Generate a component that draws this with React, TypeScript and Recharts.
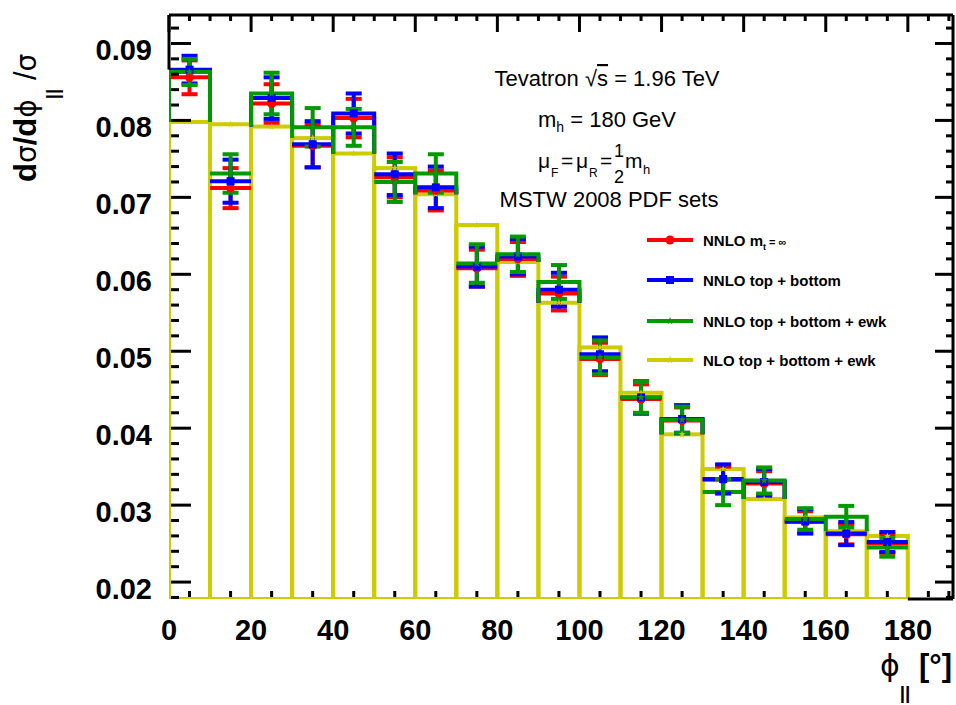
import React from 'react';
import { ComposedChart, Bar, Scatter, XAxis, YAxis, ErrorBar, ReferenceLine } from 'recharts';

// ---- data ----
const binCenters = [5, 15, 25, 35, 45, 55, 65, 75, 85, 95, 105, 115, 125, 135, 145, 155, 165, 175];

const nnloMtInf = [0.0856, 0.0712, 0.0822, 0.0767, 0.0803, 0.0726, 0.0709, 0.0608, 0.0620, 0.0575, 0.0490, 0.0438, 0.0410, 0.0333, 0.0328, 0.0278, 0.0262, 0.0250];
const nnloMtInfErr = [0.0022, 0.0026, 0.0025, 0.0028, 0.0025, 0.0026, 0.0026, 0.0024, 0.0022, 0.0022, 0.0021, 0.0019, 0.0017, 0.0017, 0.0016, 0.0014, 0.0013, 0.0012];

const nnloTopBottom = [0.0866, 0.0721, 0.0829, 0.0769, 0.0809, 0.0730, 0.0713, 0.0610, 0.0623, 0.0580, 0.0496, 0.0440, 0.0412, 0.0334, 0.0330, 0.0279, 0.0263, 0.0252];
const nnloTopBottomErr = [0.0018, 0.0028, 0.0027, 0.0030, 0.0026, 0.0027, 0.0027, 0.0026, 0.0023, 0.0022, 0.0022, 0.0021, 0.0018, 0.0019, 0.0017, 0.0016, 0.0015, 0.0013];

const nnloTopBottomEwk = [0.0863, 0.0731, 0.0835, 0.0791, 0.0791, 0.0720, 0.0731, 0.0614, 0.0626, 0.0590, 0.0492, 0.0440, 0.0411, 0.0317, 0.0332, 0.0282, 0.0285, 0.0245];
const nnloTopBottomEwkErr = [0.0017, 0.0025, 0.0027, 0.0025, 0.0024, 0.0026, 0.0025, 0.0025, 0.0023, 0.0022, 0.0022, 0.0020, 0.0017, 0.0017, 0.0017, 0.0014, 0.0014, 0.0012];

const nloTopBottomEwk = [0.0798, 0.0795, 0.0792, 0.0777, 0.0757, 0.0738, 0.0704, 0.0664, 0.0616, 0.0563, 0.0505, 0.0446, 0.0392, 0.0347, 0.0308, 0.0284, 0.0266, 0.0260];

const xTickValues = [0, 5, 10, 15, 20, 25, 30, 35, 40, 45, 50, 55, 60, 65, 70, 75, 80, 85, 90, 95, 100, 105, 110, 115, 120, 125, 130, 135, 140, 145, 150, 155, 160, 165, 170, 175, 180, 185, 190];
const xLabelValues = [0, 20, 40, 60, 80, 100, 120, 140, 160, 180];
const yTickValues = [0.018, 0.02, 0.022, 0.024, 0.026, 0.028, 0.03, 0.032, 0.034, 0.036, 0.038, 0.04, 0.042, 0.044, 0.046, 0.048, 0.05, 0.052, 0.054, 0.056, 0.058, 0.06, 0.062, 0.064, 0.066, 0.068, 0.07, 0.072, 0.074, 0.076, 0.078, 0.08, 0.082, 0.084, 0.086, 0.088, 0.09, 0.092];
const yLabelValues = [0.02, 0.03, 0.04, 0.05, 0.06, 0.07, 0.08, 0.09];

const xDomain: [number, number] = [0, 191];
const yDomain: [number, number] = [0.0178, 0.0937];
const histEnd = 180;

const RED = '#ff0000';
const BLUE = '#0000ff';
const GREEN = '#009900';
const YELLOW = '#cccc00';
const FONT = '"Liberation Sans", Arial, Helvetica, sans-serif';
const SYMFONT = '"DejaVu Sans", "Liberation Sans", sans-serif';

const data = binCenters.map((x, i) => ({
  x,
  red: nnloMtInf[i],
  redErr: nnloMtInfErr[i],
  blue: nnloTopBottom[i],
  blueErr: nnloTopBottomErr[i],
  green: nnloTopBottomEwk[i],
  greenErr: nnloTopBottomEwkErr[i],
  yellow: nloTopBottomEwk[i],
}));

const firstBinTop = Math.max(nnloMtInf[0], nnloTopBottom[0], nnloTopBottomEwk[0], nloTopBottomEwk[0]);

const isLabelX = (v: number) => xLabelValues.indexOf(v) >= 0;
const isLabelY = (v: number) => yLabelValues.some((l) => Math.abs(l - v) < 1e-9);

// ---- NLO histogram: full outline boxes ----
const boxOutline = (color: string) => (props: any) => {
  const { x, y, width, height } = props;
  if (x == null || y == null) return <g />;
  return <rect x={x} y={y} width={width} height={height} fill="none" stroke={color} strokeWidth={4} />;
};

// ---- NNLO histograms: step outline, sides shown only above the NLO box ----
const stepOutline = (color: string, key: string) => (props: any) => {
  const { x, y, width, height, payload } = props;
  if (x == null || y == null || !payload) return <g />;
  const v = payload[key];
  const base = yDomain[0];
  const k = height / (v - base);
  const bottom = y + height;
  const yellowY = bottom - (payload.yellow - base) * k;
  const yEnd = Math.max(y, yellowY);
  return (
    <path
      d={`M${x},${yEnd} L${x},${y} L${x + width},${y} L${x + width},${yEnd}`}
      fill="none"
      stroke={color}
      strokeWidth={4}
      strokeLinejoin="miter"
    />
  );
};

// ---- markers ----
const star = (cx: number, cy: number, r: number) => {
  const pts: string[] = [];
  for (let k = 0; k < 10; k++) {
    const a = (Math.PI / 5) * k - Math.PI / 2;
    const rr = k % 2 === 0 ? r : r * 0.45;
    pts.push(`${cx + rr * Math.cos(a)},${cy + rr * Math.sin(a)}`);
  }
  return pts.join(' ');
};
const CircleMark = (color: string, r: number) => (p: any) => <circle cx={p.cx} cy={p.cy} r={r} fill={color} />;
const SquareMark = (color: string, s: number) => (p: any) => <rect x={p.cx - s / 2} y={p.cy - s / 2} width={s} height={s} fill={color} />;
const StarMark = (color: string, r: number) => (p: any) => <polygon points={star(p.cx, p.cy, r)} fill={color} />;

// ---- ticks (drawn inward, ROOT style) ----
const BottomTick = (props: any) => {
  const { x, y, payload } = props;
  const v = payload.value;
  const major = v % 20 === 0;
  const underHist = v % 10 === 0 && v <= histEnd;
  return (
    <g>
      {underHist ? null : <line x1={x} x2={x} y1={y - 2} y2={y - (major ? 17 : 8)} stroke="#000" strokeWidth={3} />}
      {isLabelX(v) ? (
        <text x={x} y={y + 41} textAnchor="middle" fontFamily={FONT} fontWeight="bold" fontSize={29} fill="#000">
          {v}
        </text>
      ) : null}
    </g>
  );
};
const TopTick = (props: any) => {
  const { x, y, payload } = props;
  const major = payload.value % 20 === 0;
  return <line x1={x} x2={x} y1={y} y2={y + (major ? 17 : 6)} stroke="#000" strokeWidth={3} />;
};
const LeftTick = (props: any) => {
  const { x, y, payload } = props;
  const v = payload.value;
  const major = isLabelY(v);
  return (
    <g>
      <line x1={x + 2} x2={x + (major ? 22 : 10)} y1={y} y2={y} stroke="#000" strokeWidth={3} />
      {major ? (
        <text x={x - 17} y={y + 17} textAnchor="end" fontFamily={FONT} fontWeight="bold" fontSize={29} fill="#000">
          {v.toFixed(2)}
        </text>
      ) : null}
    </g>
  );
};
const RightTick = (props: any) => {
  const { x, y, payload } = props;
  const major = isLabelY(payload.value);
  return <line x1={x} x2={x - (major ? 18 : 7)} y1={y} y2={y} stroke="#000" strokeWidth={3} />;
};

const legendItems = [
  { color: RED, kind: 'circle', label: 'NNLO m', sub: 't', tail: ' = ∞' },
  { color: BLUE, kind: 'square', label: 'NNLO top + bottom', sub: '', tail: '' },
  { color: GREEN, kind: 'star', label: 'NNLO top + bottom + ewk', sub: '', tail: '' },
  { color: YELLOW, kind: 'star', label: 'NLO top + bottom + ewk', sub: '', tail: '' },
];
const legendY = [240, 280, 321, 360];

const axisLineStyle = { stroke: '#000', strokeWidth: 3 };

export default function App() {
  return (
    <div style={{ position: 'absolute', left: 0, top: 0, width: 956, height: 705, background: '#fff' }}>
      <ComposedChart
        width={956}
        height={705}
        data={data}
        margin={{ top: 14, right: 2, bottom: 105, left: 168 }}
        barCategoryGap={0}
        barGap={0}
      >
        <XAxis
          xAxisId="main"
          dataKey="x"
          type="number"
          orientation="bottom"
          domain={xDomain}
          allowDataOverflow
          ticks={xTickValues}
          interval={0}
          height={1}
          tickSize={0}
          tickMargin={0}
          tickLine={false}
          axisLine={false}
          tick={<BottomTick />}
        />
        <XAxis
          xAxisId="top"
          dataKey="x"
          type="number"
          orientation="top"
          domain={xDomain}
          allowDataOverflow
          ticks={xTickValues}
          interval={0}
          height={1}
          tickSize={0}
          tickMargin={0}
          tickLine={false}
          axisLine={axisLineStyle}
          tick={<TopTick />}
        />
        <XAxis xAxisId="xr" dataKey="x" type="number" domain={xDomain} allowDataOverflow hide />
        <XAxis xAxisId="xb" dataKey="x" type="number" domain={xDomain} allowDataOverflow hide />
        <XAxis xAxisId="xg" dataKey="x" type="number" domain={xDomain} allowDataOverflow hide />
        <XAxis xAxisId="xy" dataKey="x" type="number" domain={xDomain} allowDataOverflow hide />
        <YAxis
          yAxisId="left"
          type="number"
          orientation="left"
          domain={yDomain}
          allowDataOverflow
          ticks={yTickValues}
          interval={0}
          width={1}
          tickSize={0}
          tickMargin={0}
          tickLine={false}
          axisLine={false}
          tick={<LeftTick />}
        />
        <YAxis
          yAxisId="right"
          type="number"
          orientation="right"
          domain={yDomain}
          allowDataOverflow
          ticks={yTickValues}
          interval={0}
          width={1}
          tickSize={0}
          tickMargin={0}
          tickLine={false}
          axisLine={axisLineStyle}
          tick={<RightTick />}
        />

        {/* frame parts not hidden by the histograms */}
        <ReferenceLine
          xAxisId="main"
          yAxisId="left"
          segment={[{ x: xDomain[0], y: yDomain[1] }, { x: xDomain[0], y: firstBinTop }]}
          stroke="#000"
          strokeWidth={3}
        />
        <ReferenceLine
          xAxisId="main"
          yAxisId="left"
          segment={[{ x: histEnd, y: yDomain[0] }, { x: xDomain[1], y: yDomain[0] }]}
          stroke="#000"
          strokeWidth={3}
        />

        <Bar xAxisId="xy" yAxisId="left" dataKey="yellow" shape={boxOutline(YELLOW)} isAnimationActive={false} />
        <Bar xAxisId="xr" yAxisId="left" dataKey="red" shape={stepOutline(RED, 'red')} isAnimationActive={false} />
        <Bar xAxisId="xb" yAxisId="left" dataKey="blue" shape={stepOutline(BLUE, 'blue')} isAnimationActive={false} />
        <Bar xAxisId="xg" yAxisId="left" dataKey="green" shape={stepOutline(GREEN, 'green')} isAnimationActive={false} />

        <Scatter xAxisId="main" yAxisId="left" dataKey="yellow" shape={StarMark(YELLOW, 3.5)} isAnimationActive={false} />
        <Scatter xAxisId="main" yAxisId="left" dataKey="red" shape={CircleMark(RED, 4.5)} isAnimationActive={false}>
          <ErrorBar dataKey="redErr" direction="y" width={8} strokeWidth={4} stroke={RED} />
        </Scatter>
        <Scatter xAxisId="main" yAxisId="left" dataKey="blue" shape={SquareMark(BLUE, 8)} isAnimationActive={false}>
          <ErrorBar dataKey="blueErr" direction="y" width={8} strokeWidth={4} stroke={BLUE} />
        </Scatter>
        <Scatter xAxisId="main" yAxisId="left" dataKey="green" shape={StarMark(GREEN, 4)} isAnimationActive={false}>
          <ErrorBar dataKey="greenErr" direction="y" width={8} strokeWidth={4} stroke={GREEN} />
        </Scatter>
      </ComposedChart>

      <svg width={956} height={705} style={{ position: 'absolute', left: 0, top: 0, pointerEvents: 'none' }}>
        {/* y axis title */}
        <text transform="translate(36,182) rotate(-90)" fontFamily={FONT} fontSize={31} fontWeight="bold" fill="#000">
          d<tspan fontWeight="normal" fontFamily={SYMFONT} fontSize={28}>σ</tspan>/d<tspan fontWeight="normal" fontFamily={SYMFONT} fontSize={28}>ϕ</tspan>
          <tspan fontSize={19} dy={23}>||</tspan>
          <tspan dy={-23} fontWeight="normal"> /</tspan>
          <tspan fontWeight="normal" fontFamily={SYMFONT} fontSize={28}>σ</tspan>
        </text>
        {/* x axis title */}
        <text x={952} y={676} textAnchor="end" fontFamily={FONT} fontSize={31} fill="#000">
          <tspan fontFamily={SYMFONT} fontSize={30}>ϕ</tspan>
          <tspan fontSize={19} fontWeight="bold" dy={23}>||</tspan>
          <tspan dy={-23} fontWeight="bold"> [°]</tspan>
        </text>

        {/* annotation */}
        <g fontFamily={FONT} fontSize={22} fill="#000">
          <text x={607} y={86} textAnchor="middle">
            Tevatron √<tspan style={{ textDecoration: 'overline' }}>s</tspan> = 1.96 TeV
          </text>
          <text x={607} y={127} textAnchor="middle">
            m<tspan fontSize={14} dy={5}>h</tspan>
            <tspan dy={-5}> = 180 GeV</tspan>
          </text>
          <text x={538} y={168} fontSize={21}>μ</text>
          <text x={551} y={177} fontSize={12}>F</text>
          <text x={561} y={168} fontSize={21}>=</text>
          <text x={576} y={168} fontSize={21}>μ</text>
          <text x={589} y={177} fontSize={12}>R</text>
          <text x={600} y={168} fontSize={21}>=</text>
          <text x={619} y={157} textAnchor="middle" fontSize={18}>1</text>
          <text x={619} y={183} textAnchor="middle" fontSize={18}>2</text>
          <text x={625} y={168} fontSize={21}>m</text>
          <text x={643} y={174} fontSize={13}>h</text>
          <text x={609} y={207} textAnchor="middle">MSTW 2008 PDF sets</text>
        </g>

        {/* legend */}
        {legendItems.map((it, i) => {
          const y = legendY[i];
          return (
            <g key={i}>
              <line x1={647} x2={693} y1={y} y2={y} stroke={it.color} strokeWidth={4} />
              {it.kind === 'circle' ? <circle cx={670} cy={y} r={4.5} fill={it.color} /> : null}
              {it.kind === 'square' ? <rect x={666} y={y - 4} width={8} height={8} fill={it.color} /> : null}
              {it.kind === 'star' ? <polygon points={star(670, y, 4)} fill={it.color} /> : null}
              <text x={703} y={y + 6} fontFamily={FONT} fontSize={15} fontWeight="bold" fill="#000">
                {it.label}
                {it.sub ? <tspan fontSize={9} dy={4}>{it.sub}</tspan> : null}
                {it.tail ? <tspan fontSize={11} dy={-4}>{it.tail}</tspan> : null}
              </text>
            </g>
          );
        })}
      </svg>
    </div>
  );
}
